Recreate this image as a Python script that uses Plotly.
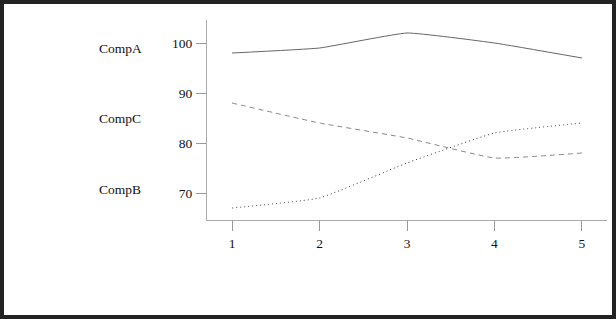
import plotly.graph_objects as go

x_vals = [1, 2, 3, 4, 5]
series_names = ["CompA", "CompC", "CompB"]
comp_a = [98, 99, 102, 100, 97]
comp_c = [88, 84, 81, 77, 78]
comp_b = [67, 69, 76, 82, 84]
y_ticks = [70, 80, 90, 100]

W, H = 616, 319
ml, mr, mt, mb = 207, 9, 20, 99
pw, ph = W - ml - mr, H - mt - mb

def px_x(p):
    return (p - ml) / pw

def px_y(p):
    return (H - mb - p) / ph

styles = {
    "CompA": dict(color="#666666", dash="solid"),
    "CompC": dict(color="#888888", dash="5px,4px"),
    "CompB": dict(color="#333333", dash="1px,3px"),
}
data = {"CompA": comp_a, "CompC": comp_c, "CompB": comp_b}

fig = go.Figure()
for name in series_names:
    st = styles[name]
    fig.add_trace(go.Scatter(
        x=x_vals, y=data[name], mode="lines", name=name,
        line=dict(color=st["color"], dash=st["dash"], width=1, shape="spline", smoothing=0.35),
        showlegend=False, hoverinfo="skip",
    ))

label_y = {"CompA": 48, "CompC": 118, "CompB": 189}
for name in series_names:
    fig.add_annotation(
        x=px_x(97), y=px_y(label_y[name]), xref="paper", yref="paper",
        text=name, showarrow=False, xanchor="left", yanchor="middle",
        font=dict(family="Liberation Serif", size=13.5, color="#111111"),
    )

# white card over dark frame
fig.add_shape(type="rect", xref="paper", yref="paper",
              x0=px_x(4), x1=px_x(612), y0=px_y(315), y1=px_y(4),
              fillcolor="white", line=dict(width=0), layer="below")

axis_common = dict(
    showgrid=False, zeroline=False, showline=True, linecolor="#aaaaaa", linewidth=1,
    ticks="outside", ticklen=10, tickwidth=1, tickcolor="#999999",
    tickfont=dict(family="Liberation Serif", size=13.5, color="#111111"),
)

fig.update_layout(
    width=W, height=H,
    margin=dict(l=ml, r=mr, t=mt, b=mb, pad=0),
    paper_bgcolor="#222222", plot_bgcolor="white",
    xaxis=dict(range=[0.714, 5.286], tickvals=x_vals, ticklabelstandoff=1, **axis_common),
    yaxis=dict(range=[64.6, 104.6], tickvals=y_ticks, ticklabelstandoff=1, **axis_common),
)

fig.write_html("out.html")
